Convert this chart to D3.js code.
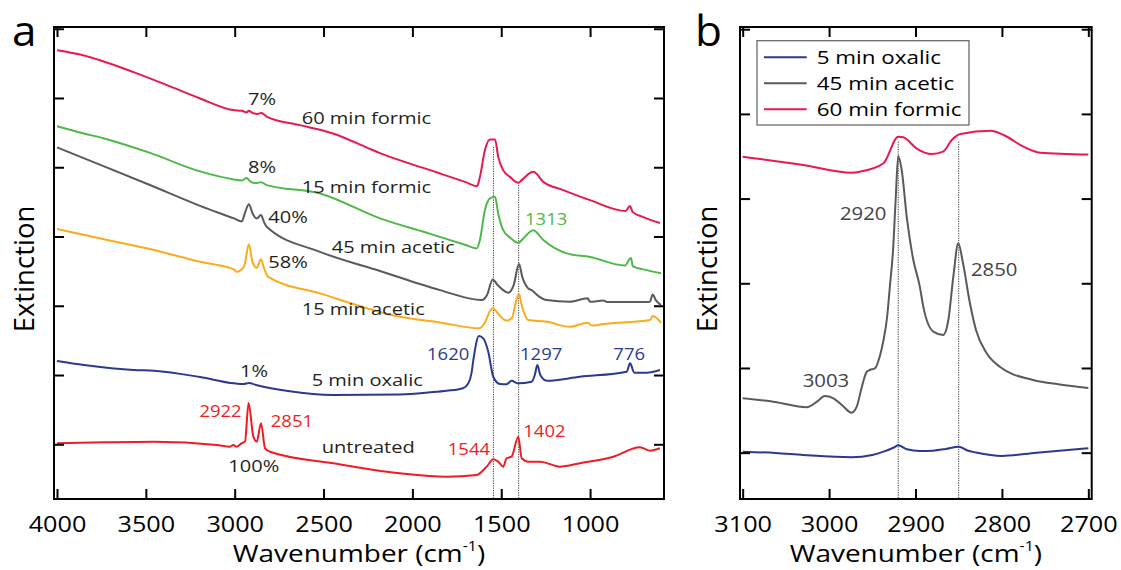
<!DOCTYPE html>
<html>
<head>
<meta charset="utf-8">
<script src="https://cdn.jsdelivr.net/npm/d3@7"></script>
<style>
  html, body { margin: 0; padding: 0; background: #fff; }
  svg { display: block; font-family: "Open Sans", "Noto Sans", sans-serif; }
</style>
</head>
<body>
<svg id="chart" width="1121" height="570"></svg>
<script>
// ---------- Panel a: full IR extinction spectra, [wavenumber (cm-1), extinction] ----------
const formic60 = [[4000,6.690],[3854,6.618],[3758,6.546],[3572,6.377],[3381,6.185],[3195,5.993],[3010,5.825],[2960,5.815],[2932,5.790],[2922,5.815],[2900,5.785],[2870,5.770],[2850,5.785],[2818,5.727],[2633,5.608],[2447,5.488],[2255,5.283],[2182,5.203],[1900,4.958],[1700,4.785],[1636,4.727],[1620,4.861],[1592,5.247],[1563,5.401],[1535,5.401],[1517,5.150],[1489,4.958],[1451,4.861],[1404,4.775],[1385,4.814],[1320,4.934],[1263,4.789],[1151,4.670],[1000,4.525],[800,4.367],[776,4.439],[760,4.352],[700,4.280],[607,4.194]];
const formic15 = [[4000,5.593],[3848,5.488],[3735,5.416],[3480,5.211],[3195,4.940],[3004,4.824],[2960,4.810],[2932,4.843],[2915,4.800],[2880,4.771],[2852,4.785],[2820,4.742],[2520,4.622],[2182,4.261],[1900,4.038],[1700,3.877],[1638,3.828],[1620,3.948],[1592,4.381],[1563,4.550],[1535,4.573],[1517,4.333],[1489,4.092],[1451,3.987],[1404,3.909],[1385,3.948],[1320,4.092],[1263,3.948],[1132,3.756],[1000,3.703],[804,3.582],[770,3.688],[759,3.568],[700,3.525],[601,3.468]];
const acetic45 = [[4000,5.286],[3735,5.013],[3477,4.743],[3195,4.443],[3004,4.261],[2960,4.218],[2940,4.360],[2920,4.467],[2900,4.337],[2876,4.261],[2852,4.309],[2835,4.208],[2820,4.140],[2520,3.779],[2182,3.502],[1845,3.226],[1610,3.082],[1580,3.154],[1548,3.381],[1520,3.299],[1460,3.188],[1430,3.299],[1400,3.602],[1380,3.400],[1350,3.255],[1329,3.226],[1290,3.140],[1244,3.082],[1113,3.058],[1014,3.107],[1000,3.058],[926,3.075],[900,3.053],[700,3.053],[663,3.058],[648,3.164],[630,3.082],[601,3.010]];
const acetic15 = [[4000,4.107],[3735,3.960],[3454,3.804],[3195,3.635],[3004,3.525],[2989,3.491],[2961,3.525],[2945,3.587],[2920,3.890],[2900,3.631],[2876,3.548],[2852,3.670],[2835,3.544],[2811,3.418],[2520,3.179],[2070,2.841],[1845,2.760],[1624,2.674],[1590,2.765],[1560,2.938],[1545,2.963],[1525,2.909],[1470,2.786],[1440,2.823],[1415,3.082],[1400,3.169],[1385,3.010],[1348,2.794],[1244,2.769],[1113,2.697],[1014,2.755],[990,2.714],[926,2.736],[663,2.794],[648,2.851],[601,2.755]];
const oxalic5 = [[4000,2.202],[3848,2.144],[3567,2.072],[3454,2.062],[3195,1.971],[3004,1.880],[2950,1.870],[2920,1.885],[2880,1.856],[2700,1.769],[2447,1.711],[2070,1.720],[1900,1.750],[1807,1.773],[1715,1.810],[1685,1.880],[1667,2.030],[1657,2.216],[1625,2.563],[1601,2.530],[1573,2.336],[1545,1.975],[1507,1.870],[1470,1.866],[1442,1.918],[1405,1.880],[1329,1.903],[1311,2.000],[1297,2.144],[1280,2.000],[1244,1.918],[1057,1.975],[794,2.048],[775,2.169],[751,2.033],[682,2.033],[607,2.072]];
const untreated = [[4000,1.014],[3735,1.029],[3454,1.038],[3101,0.990],[3026,0.965],[3008,0.990],[2989,0.965],[2961,1.014],[2942,1.038],[2922,1.596],[2895,1.110],[2876,1.038],[2852,1.303],[2829,0.942],[2801,0.893],[2445,0.726],[2070,0.582],[1807,0.532],[1638,0.557],[1582,0.677],[1545,0.784],[1517,0.749],[1489,0.677],[1470,0.798],[1442,0.821],[1404,1.110],[1385,0.798],[1348,0.749],[1282,0.749],[1170,0.677],[1057,0.726],[869,0.821],[719,0.957],[700,0.942],[663,0.908],[607,0.942]];

// ---------- Panel b: C-H stretching region ----------
const formic60CH = [[3100,4.495],[3030,4.397],[2974,4.306],[2964,4.318],[2937,4.417],[2920,4.731],[2914,4.724],[2899,4.594],[2881,4.527],[2868,4.554],[2858,4.692],[2848,4.763],[2813,4.802],[2798,4.751],[2775,4.613],[2756,4.542],[2700,4.520]];
const acetic45CH = [[3100,1.642],[3063,1.599],[3026,1.536],[3014,1.602],[3005,1.669],[2995,1.642],[2984,1.551],[2974,1.472],[2968,1.543],[2963,1.740],[2956.5,1.953],[2953,1.976],[2947,1.994],[2941,2.150],[2937,2.330],[2933,2.590],[2929.5,2.980],[2926,3.390],[2923,3.980],[2920,4.503],[2916,4.338],[2910,3.771],[2903,3.299],[2895,2.960],[2891,2.724],[2879.4,2.429],[2868,2.390],[2862,2.567],[2856,3.098],[2850.5,3.472],[2845,3.236],[2837,2.764],[2830,2.449],[2817.6,2.174],[2802,2.012],[2764,1.858],[2733,1.805],[2700,1.764]];
const oxalic5CH = [[3100,1.012],[3062,0.996],[3030,0.973],[2974,0.946],[2950,0.973],[2937,1.012],[2925,1.061],[2920,1.087],[2910,1.040],[2895,1.020],[2880,1.024],[2865,1.044],[2850,1.071],[2840,1.026],[2830,1.002],[2800,0.961],[2760,1.000],[2700,1.052]];

// ---------- Ticks ----------
const xTicksA = [4000, 3500, 3000, 2500, 2000, 1500, 1000];
const yTicksA = [1, 2, 3, 4, 5, 6, 7];
const xTicksB = [3100, 3000, 2900, 2800, 2700];
const yTicksB = [1, 2, 3, 4, 5, 6];

// ---------- Reference band positions [wavenumber, top extinction] ----------
const bandsA = [[1544, 5.296], [1402, 4.743]];
const bandsB = [[2920, 4.672], [2850, 4.672]];

// ---------- Series colours ----------
const C = {
  formic60: "#e9184f", formic15: "#4fb848", acetic45: "#5a5a5c",
  acetic15: "#fbab1c", oxalic5: "#2b3a8e", untreated: "#ee1d24"
};

// ---------- Annotations: [text, wavenumber, extinction, colour, anchor] ----------
const notesA = [
  ["7%", 2925, 5.898, "#231f20", "start"],
  ["60 min formic", 2623, 5.624, "#231f20", "start"],
  ["8%", 2925, 4.912, "#231f20", "start"],
  ["15 min formic", 2623, 4.624, "#231f20", "start"],
  ["40%", 2811, 4.199, "#231f20", "start"],
  ["45 min acetic", 2454, 3.762, "#231f20", "start"],
  ["58%", 2811, 3.541, "#231f20", "start"],
  ["15 min acetic", 2623, 2.867, "#231f20", "start"],
  ["1%", 2970, 1.967, "#231f20", "start"],
  ["5 min oxalic", 2567, 1.842, "#231f20", "start"],
  ["untreated", 2510, 0.870, "#231f20", "start"],
  ["100%", 3036, 0.596, "#231f20", "start"]
];
const peaksA = [
  ["2922", 2961, 1.398, C.untreated, "end"],
  ["2851", 2797, 1.254, C.untreated, "start"],
  ["1544", 1563, 0.846, C.untreated, "end"],
  ["1402", 1376, 1.110, C.untreated, "start"],
  ["1620", 1680, 2.217, C.oxalic5, "end"],
  ["1297", 1394, 2.217, C.oxalic5, "start"],
  ["776", 869, 2.217, C.oxalic5, "start"],
  ["1313", 1366, 4.166, C.formic15, "start"]
];
const peaksB = [
  ["2920", 2987.4, 3.747, "#444446", "start"],
  ["3003", 3030.6, 1.772, "#444446", "start"],
  ["2850", 2835.8, 3.086, "#444446", "start"]
];
const legendB = [["5 min oxalic", C.oxalic5], ["45 min acetic", C.acetic45], ["60 min formic", C.formic60]];

// ---------- Drawing ----------
const svg = d3.select("#chart");

function addText(g, str, x, y, o) {
  return g.append("text")
    .attr("transform", `translate(${x},${y}) scale(${o.sx || 1},1)`)
    .attr("font-size", o.fs)
    .attr("text-anchor", o.anchor || "start")
    .attr("fill", o.fill || "#231f20")
    .text(str);
}

function panel(cfg) {
  const g = svg.append("g");
  const x = d3.scaleLinear().domain(cfg.xDomain).range([cfg.left, cfg.right]);
  const y = d3.scaleLinear().domain(cfg.yDomain).range([cfg.bottom, cfg.top]);

  // dotted reference bands
  g.selectAll("line.band").data(cfg.bands).join("line")
    .attr("x1", d => x(d[0])).attr("x2", d => x(d[0]))
    .attr("y1", d => y(d[1])).attr("y2", y(cfg.yDomain[0]))
    .attr("stroke", "#3a3a3a").attr("stroke-width", 1)
    .attr("stroke-dasharray", "1.2,1.2");

  // spectra
  const line = d3.line().x(d => x(d[0])).y(d => y(d[1])).curve(d3.curveMonotoneX);
  g.selectAll("path.spec").data(cfg.series).join("path")
    .attr("d", d => line(d.values))
    .attr("fill", "none").attr("stroke", d => d.color)
    .attr("stroke-width", 2).attr("stroke-linejoin", "round");

  // inward ticks on all four sides
  const tickStyle = sel => {
    sel.select(".domain").remove();
    sel.selectAll(".tick line").attr("stroke", "#000").attr("stroke-width", 2);
  };
  g.append("g").attr("transform", `translate(0,${cfg.top})`)
    .call(d3.axisTop(x).tickValues(cfg.xTicks).tickSize(-10).tickFormat(""))
    .call(tickStyle);
  const bottom = g.append("g").attr("transform", `translate(0,${cfg.bottom})`)
    .call(d3.axisBottom(x).tickValues(cfg.xTicks).tickSize(-10).tickFormat(d3.format("d")))
    .call(tickStyle);
  bottom.selectAll(".tick text")
    .attr("y", 33).attr("dy", null)
    .attr("font-family", "Open Sans, Noto Sans, sans-serif")
    .attr("font-size", 21).attr("fill", "#000")
    .attr("transform", "scale(1.2,1)");
  g.append("g").attr("transform", `translate(${cfg.left},0)`)
    .call(d3.axisLeft(y).tickValues(cfg.yTicks).tickSize(-10).tickFormat(""))
    .call(tickStyle);
  g.append("g").attr("transform", `translate(${cfg.right},0)`)
    .call(d3.axisRight(y).tickValues(cfg.yTicks).tickSize(-10).tickFormat(""))
    .call(tickStyle);

  // frame
  g.append("rect")
    .attr("x", cfg.left).attr("y", cfg.top)
    .attr("width", cfg.right - cfg.left).attr("height", cfg.bottom - cfg.top)
    .attr("fill", "none").attr("stroke", "#000").attr("stroke-width", 2);

  // x title with superscript
  const cx = (cfg.left + cfg.right) / 2;
  const t = g.append("text")
    .attr("transform", `translate(${cx},562) scale(1.14,1)`)
    .attr("text-anchor", "middle").attr("font-size", 24.5).attr("fill", "#000");
  t.append("tspan").text("Wavenumber (cm");
  t.append("tspan").attr("font-size", 14).attr("dy", -11).text("-1");
  t.append("tspan").attr("dy", 11).text(")");

  // y title
  g.append("text")
    .attr("transform", `translate(${cfg.yTitleX},${(cfg.top + cfg.bottom) / 2 + 6}) rotate(-90)`)
    .attr("text-anchor", "middle").attr("font-size", 27.5).attr("fill", "#000")
    .text("Extinction");

  // panel letter
  addText(g, cfg.letter, cfg.letterX, 46, { fs: 42, fill: "#000", sx: 1.05 });

  return { g, x, y };
}

// Panel a
const A = panel({
  left: 54, top: 27, right: 664, bottom: 499,
  xDomain: [4016.9, 584], yDomain: [0.21, 7.025],
  xTicks: xTicksA, yTicks: yTicksA, bands: bandsA,
  yTitleX: 33.5, letter: "a", letterX: 12,
  series: [
    { values: untreated, color: C.untreated },
    { values: oxalic5, color: C.oxalic5 },
    { values: acetic15, color: C.acetic15 },
    { values: acetic45, color: C.acetic45 },
    { values: formic15, color: C.formic15 },
    { values: formic60, color: C.formic60 }
  ]
});
notesA.forEach(n => addText(A.g, n[0], A.x(n[1]), A.y(n[2]), { fs: 17, sx: 1.18, fill: n[3], anchor: n[4] }));
peaksA.forEach(n => addText(A.g, n[0], A.x(n[1]), A.y(n[2]), { fs: 16.5, sx: 1.12, fill: n[3], anchor: n[4] }));

// Panel b
const B = panel({
  left: 740, top: 27, right: 1091.7, bottom: 499,
  xDomain: [3103.1, 2696.1], yDomain: [0.453, 6.026],
  xTicks: xTicksB, yTicks: yTicksB, bands: bandsB,
  yTitleX: 717, letter: "b", letterX: 695,
  series: [
    { values: oxalic5CH, color: C.oxalic5 },
    { values: acetic45CH, color: C.acetic45 },
    { values: formic60CH, color: C.formic60 }
  ]
});
peaksB.forEach(n => addText(B.g, n[0], B.x(n[1]), B.y(n[2]), { fs: 18.5, sx: 1.1, fill: n[3], anchor: n[4] }));

// legend
const lg = B.g.append("g").attr("transform", "translate(757,40.7)");
lg.append("rect").attr("width", 212).attr("height", 84.3)
  .attr("fill", "#fff").attr("stroke", "#6a6a6a").attr("stroke-width", 1.3);
legendB.forEach((d, i) => {
  const yy = 16.6 + i * 26;
  lg.append("line").attr("x1", 7).attr("x2", 49.7).attr("y1", yy).attr("y2", yy)
    .attr("stroke", d[1]).attr("stroke-width", 2);
  addText(lg, d[0], 59.7, yy + 7, { fs: 19, sx: 1.18, fill: "#000" });
});
</script>
</body>
</html>
